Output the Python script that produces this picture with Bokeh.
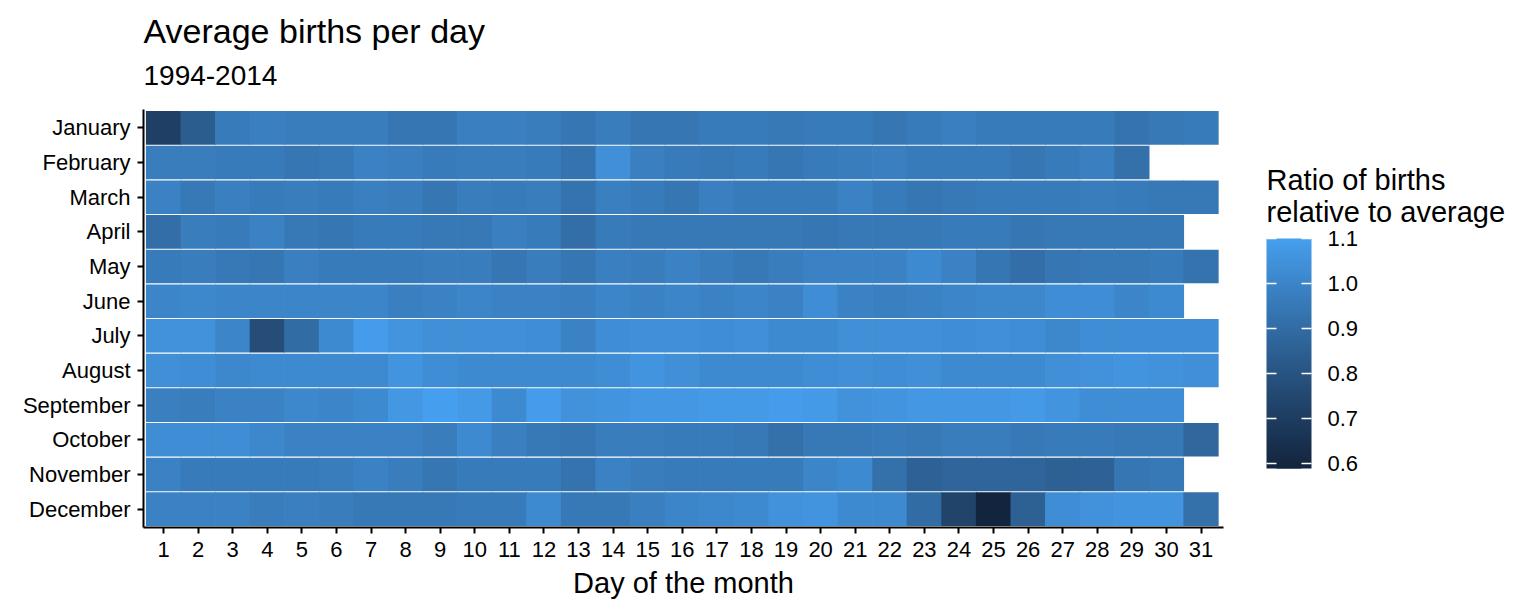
import numpy as np
from bokeh.plotting import figure
from bokeh.layouts import column, row
from bokeh.models import (Range1d, LinearColorMapper, ColorBar, FixedTicker, Label,
                          ColumnDataSource, PrintfTickFormatter)
from bokeh.transform import transform
from bokeh.embed import file_html
from bokeh.resources import INLINE

# ---------------- data ----------------
months = ["January", "February", "March", "April", "May", "June", "July",
          "August", "September", "October", "November", "December"]

jan = [0.71, 0.84, 0.96, 0.98, 0.97, 0.97, 0.97, 0.94, 0.94, 0.98, 0.98, 0.97, 0.94, 0.97, 0.94, 0.94,
       0.96, 0.96, 0.95, 0.96, 0.96, 0.94, 0.96, 0.98, 0.96, 0.96, 0.96, 0.96, 0.93, 0.95, 0.96]
feb = [0.97, 0.97, 0.96, 0.96, 0.94, 0.95, 0.99, 0.98, 0.96, 0.97, 0.97, 0.96, 0.93, 1.04, 0.98, 0.96,
       0.95, 0.96, 0.94, 0.96, 0.97, 0.98, 0.96, 0.96, 0.96, 0.94, 0.96, 0.98, 0.92]
mar = [0.99, 0.95, 0.98, 0.96, 0.97, 0.96, 0.98, 0.97, 0.94, 0.97, 0.96, 0.97, 0.93, 0.98, 0.96, 0.94,
       0.98, 0.96, 0.96, 0.96, 0.99, 0.96, 0.94, 0.95, 0.96, 0.96, 0.96, 0.97, 0.96, 0.95, 0.95]
apr = [0.91, 0.97, 0.96, 0.99, 0.95, 0.94, 0.96, 0.96, 0.95, 0.95, 0.98, 0.96, 0.91, 0.96, 0.95, 0.95,
       0.95, 0.95, 0.95, 0.94, 0.95, 0.95, 0.95, 0.96, 0.96, 0.94, 0.95, 0.95, 0.95, 0.95]
may = [0.96, 0.97, 0.95, 0.94, 0.98, 0.96, 0.96, 0.96, 0.97, 0.97, 0.94, 0.97, 0.94, 0.98, 0.97, 0.99,
       0.97, 0.95, 0.97, 0.99, 0.99, 0.99, 1.02, 0.99, 0.94, 0.91, 0.94, 0.95, 0.95, 0.96, 0.93]
jun = [1.00, 1.01, 1.00, 1.00, 1.00, 1.00, 1.00, 0.98, 0.99, 1.00, 0.99, 0.99, 0.98, 1.00, 0.99, 1.00,
       0.99, 1.00, 0.99, 1.03, 0.99, 0.98, 0.99, 1.00, 1.01, 1.01, 1.03, 1.03, 1.00, 1.02]
jul = [1.05, 1.05, 1.00, 0.77, 0.90, 1.02, 1.09, 1.06, 1.04, 1.04, 1.04, 1.03, 0.99, 1.03, 1.04, 1.04,
       1.03, 1.04, 1.02, 1.02, 1.04, 1.04, 1.04, 1.03, 1.04, 1.03, 1.01, 1.03, 1.03, 1.03, 1.03]
aug = [1.04, 1.03, 1.01, 1.02, 1.02, 1.02, 1.02, 1.06, 1.03, 1.02, 1.02, 1.02, 1.02, 1.03, 1.06, 1.04,
       1.02, 1.02, 1.02, 1.03, 1.04, 1.03, 1.04, 1.02, 1.02, 1.02, 1.04, 1.05, 1.06, 1.05, 1.04]
sep = [0.98, 0.97, 0.99, 0.99, 1.01, 1.00, 1.02, 1.07, 1.10, 1.08, 1.02, 1.09, 1.05, 1.06, 1.07, 1.07,
       1.08, 1.08, 1.09, 1.08, 1.05, 1.06, 1.07, 1.07, 1.07, 1.08, 1.06, 1.03, 1.03, 1.03]
oct = [1.03, 1.03, 1.03, 1.01, 0.99, 0.99, 0.99, 0.99, 0.97, 1.02, 0.98, 0.95, 0.94, 0.97, 0.97, 0.96,
       0.96, 0.95, 0.92, 0.95, 0.95, 0.96, 0.95, 0.97, 0.97, 0.95, 0.96, 0.96, 0.95, 0.95, 0.88]
nov = [0.99, 0.96, 0.96, 0.96, 0.96, 0.97, 0.99, 0.97, 0.94, 0.96, 0.96, 0.96, 0.93, 0.99, 0.97, 0.96,
       0.96, 0.96, 0.96, 1.00, 1.02, 0.92, 0.86, 0.87, 0.87, 0.87, 0.85, 0.86, 0.94, 0.95]
dec = [0.99, 0.99, 0.99, 0.97, 0.98, 0.97, 0.95, 0.95, 0.95, 0.96, 0.96, 1.02, 0.95, 0.95, 0.98, 1.00,
       1.01, 1.02, 1.05, 1.06, 1.02, 1.02, 0.90, 0.73, 0.59, 0.85, 1.03, 1.05, 1.06, 1.06, 0.92]

month_values = [jan, feb, mar, apr, may, jun, jul, aug, sep, oct, nov, dec]
day_ticks = list(range(1, 32))
bar_ticks = [0.6, 0.7, 0.8, 0.9, 1.0, 1.1]

title_text = "Average births per day"
subtitle_text = "1994-2014"
legend_title = ["Ratio of births", "relative to average"]
x_title = "Day of the month"

# ---------------- colour scale (Lab interpolation, ggplot-like gradient) ----------------
M = np.array([[0.4124564, 0.3575761, 0.1804375],
              [0.2126729, 0.7151522, 0.0721750],
              [0.0193339, 0.1191920, 0.9503041]])
WHITE = np.array([0.95047, 1.0, 1.08883])


def hex_to_lab(h):
    rgb = np.array([int(h[i:i + 2], 16) / 255 for i in (1, 3, 5)])
    lin = np.where(rgb > 0.04045, ((rgb + 0.055) / 1.055) ** 2.4, rgb / 12.92)
    xyz = M @ lin / WHITE
    f = np.where(xyz > 216 / 24389, np.cbrt(xyz), (24389 / 27 * xyz + 16) / 116)
    return np.array([116 * f[1] - 16, 500 * (f[0] - f[1]), 200 * (f[1] - f[2])])


def lab_to_hex(lab):
    L, a, b = lab
    fy = (L + 16) / 116
    fx = fy + a / 500
    fz = fy - b / 200
    f = np.array([fx, fy, fz])
    xyz = np.where(f ** 3 > 216 / 24389, f ** 3, (116 * f - 16) / (24389 / 27)) * WHITE
    lin = np.linalg.solve(M, xyz)
    rgb = np.where(lin > 0.0031308, 1.055 * np.clip(lin, 0, None) ** (1 / 2.4) - 0.055, 12.92 * lin)
    rgb = np.clip(np.round(rgb * 255), 0, 255).astype(int)
    return "#%02x%02x%02x" % tuple(rgb)


lo_lab, hi_lab = hex_to_lab("#13253E"), hex_to_lab("#469FEE")
palette = [lab_to_hex(lo_lab + (hi_lab - lo_lab) * t) for t in np.linspace(0, 1, 256)]

# ---------------- table ----------------
xs, ys, vals = [], [], []
for mi, rvals in enumerate(month_values):
    for di, v in enumerate(rvals):
        xs.append(di + 1)
        ys.append(12 - mi)
        vals.append(v)
src = ColumnDataSource(dict(day=xs, row=ys, value=vals))

mapper = LinearColorMapper(palette=palette, low=min(vals), high=max(vals))

FONT = "Liberation Sans"
TOP_H = 109          # height of the title strip
LEFT = 143           # left border of the heatmap
FW, FH = 1080, 418   # heatmap frame
BOTTOM = 79
MAIN_W = LEFT + FW + 10
LEG_W = 290
TOTAL_W = MAIN_W + LEG_W


def tidy(f):
    f.outline_line_color = None
    f.xgrid.visible = False
    f.ygrid.visible = False
    return f


# ---------------- title strip ----------------
top = tidy(figure(width=TOTAL_W, height=TOP_H, x_range=Range1d(0, TOTAL_W),
                  y_range=Range1d(TOP_H, 0), x_axis_type=None, y_axis_type=None,
                  output_backend="svg", toolbar_location=None, min_border=0))
top.add_layout(Label(x=LEFT, y=30, text=title_text, text_font=FONT, text_font_size="34px",
                     text_baseline="middle", text_align="left", text_color="black"))
top.add_layout(Label(x=LEFT, y=75, text=subtitle_text, text_font=FONT, text_font_size="28px",
                     text_baseline="middle", text_align="left", text_color="black"))

# ---------------- heatmap ----------------
p = tidy(figure(frame_width=FW, frame_height=FH,
                x_range=Range1d(0.42, 31.65), y_range=Range1d(0.47, 12.53),
                output_backend="svg", toolbar_location=None,
                min_border_left=LEFT, min_border_right=10, min_border_top=0,
                min_border_bottom=BOTTOM))

p.rect(x="day", y="row", width=1.02, height=0.968, source=src,
       fill_color=transform("value", mapper), line_color=None)

for ax in (p.xaxis[0], p.yaxis[0]):
    ax.axis_line_width = 2
    ax.axis_line_color = "black"
    ax.major_tick_line_width = 2
    ax.major_tick_line_color = "black"
    ax.major_tick_in = 0
    ax.major_tick_out = 6
    ax.minor_tick_line_color = None
    ax.major_label_text_font = FONT
    ax.major_label_text_font_size = "22px"
    ax.major_label_text_color = "black"

p.xaxis.ticker = FixedTicker(ticks=day_ticks)
p.xaxis.major_label_standoff = 8
p.xaxis.axis_label = x_title
p.xaxis.axis_label_text_font = FONT
p.xaxis.axis_label_text_font_size = "29px"
p.xaxis.axis_label_text_font_style = "normal"
p.xaxis.axis_label_text_color = "black"
p.xaxis.axis_label_standoff = 7

p.yaxis.ticker = FixedTicker(ticks=list(range(1, 13)))
p.yaxis.major_label_overrides = {12 - i: m for i, m in enumerate(months)}
p.yaxis.major_label_standoff = 7

# ---------------- legend (same frame height as the heatmap; y = page px - TOP_H) ----------------
leg = tidy(figure(frame_width=LEG_W, frame_height=FH, x_range=Range1d(0, LEG_W),
                  y_range=Range1d(FH, 0), x_axis_type=None, y_axis_type=None,
                  output_backend="svg", toolbar_location=None, min_border=0,
                  min_border_bottom=BOTTOM))
BAR_X = 1266 - MAIN_W
BAR_Y = TOP_H + FH - 468
leg.add_layout(Label(x=BAR_X, y=179 - TOP_H, text=legend_title[0], text_font=FONT,
                     text_font_size="29px", text_baseline="middle", text_align="left",
                     text_color="black"))
leg.add_layout(Label(x=BAR_X, y=211 - TOP_H, text=legend_title[1], text_font=FONT,
                     text_font_size="29px", text_baseline="middle", text_align="left",
                     text_color="black"))

# full colour bar with labels; its white ticks span the whole bar width
cb = ColorBar(color_mapper=mapper, location=(BAR_X, BAR_Y), width=45, height=230,
              padding=0, ticker=FixedTicker(ticks=bar_ticks),
              formatter=PrintfTickFormatter(format="%.1f"),
              bar_line_color=None, border_line_color=None, background_fill_alpha=0,
              minor_tick_line_color=None, major_tick_out=0, major_tick_in=45,
              major_tick_line_color="white", major_tick_line_width=1.5,
              major_label_text_font=FONT, major_label_text_font_size="22px",
              major_label_text_color="black", label_standoff=16)
leg.add_layout(cb, "center")
# narrower bar on top: leaves only short tick marks on both edges
cb_mid = ColorBar(color_mapper=mapper, location=(BAR_X + 10, BAR_Y), width=25, height=230,
                  padding=0, ticker=FixedTicker(ticks=bar_ticks),
                  bar_line_color=None, border_line_color=None, background_fill_alpha=0,
                  major_tick_line_color=None, minor_tick_line_color=None,
                  major_label_text_alpha=0, major_label_text_font_size="22px")
leg.add_layout(cb_mid, "center")

layout = column(top, row(p, leg))
open("out.html", "w").write(file_html(layout, INLINE))
